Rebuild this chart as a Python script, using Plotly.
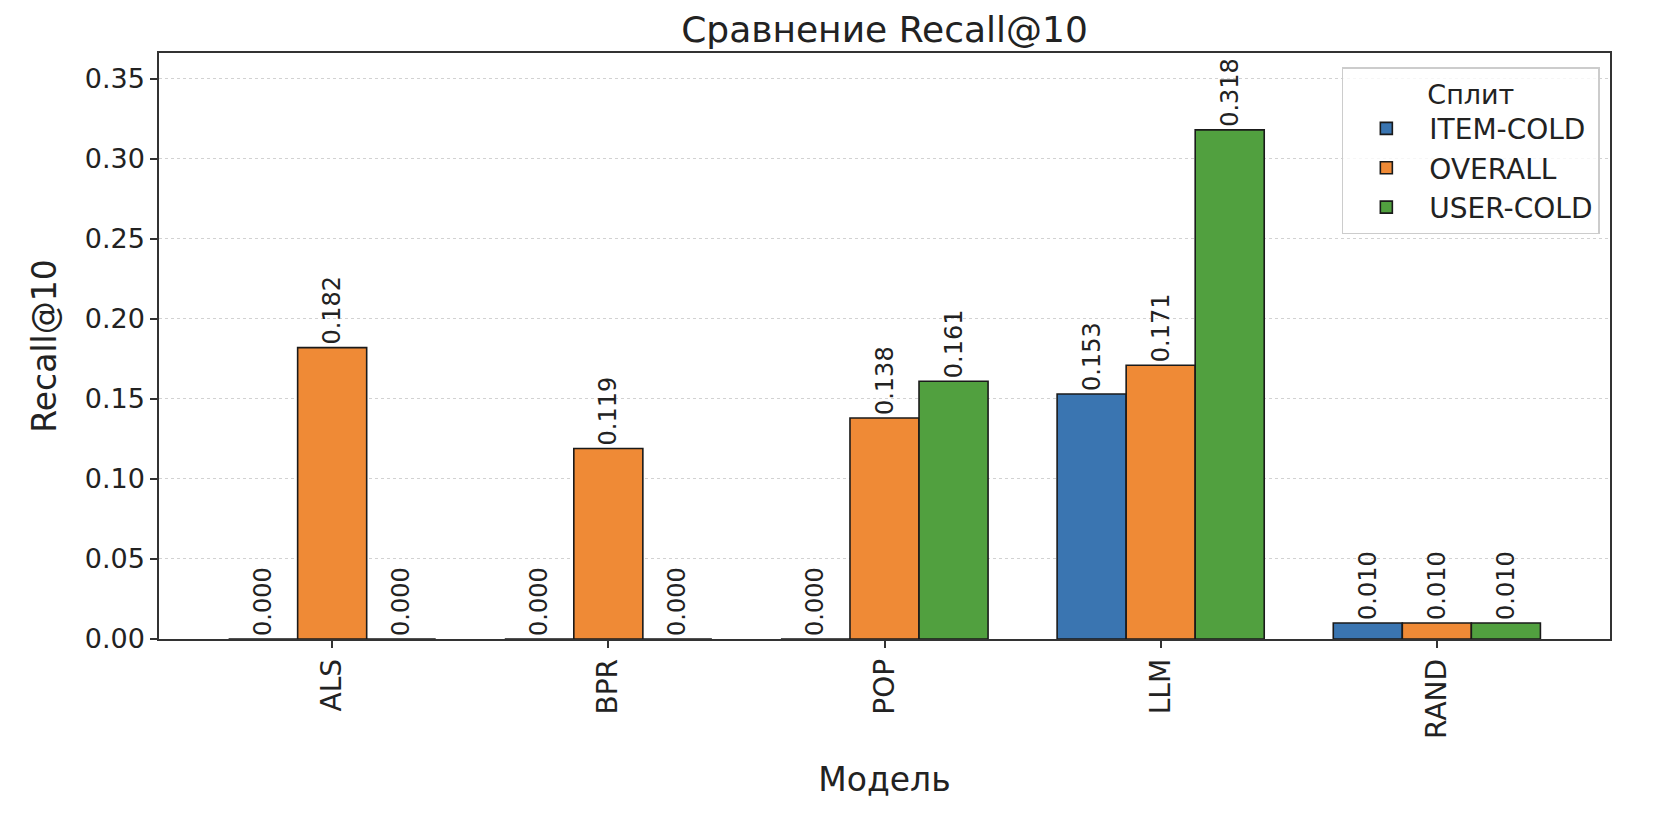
import plotly.graph_objects as go

# data
models = ["ALS", "BPR", "POP", "LLM", "RAND"]
splits = ["ITEM-COLD", "OVERALL", "USER-COLD"]
item_cold = [0.000, 0.000, 0.000, 0.153, 0.010]
overall = [0.182, 0.119, 0.138, 0.171, 0.010]
user_cold = [0.000, 0.000, 0.161, 0.318, 0.010]
y_ticks = [0.00, 0.05, 0.10, 0.15, 0.20, 0.25, 0.30, 0.35]

series = [item_cold, overall, user_cold]
colors = ["#3a75b1", "#ef8a36", "#51a03f"]
FONT = "DejaVu Sans"

# the page body has an 8px margin, so the figure is a bit smaller than the window
W, H = 1664, 800
L, T, R, B = 151, 45, 62, 169

fig = go.Figure()
for name, vals, col in zip(splits, series, colors):
    fig.add_trace(go.Bar(
        x=models, y=vals, name=name,
        marker=dict(color=col, line=dict(color="#1a1a1a", width=1.6)),
        texttemplate="%{y:.3f}", textposition="outside", textangle=-90,
        textfont=dict(family=FONT, size=24, color="#222"),
        constraintext="none", cliponaxis=False,
    ))

fig.update_layout(
    width=W, height=H,
    paper_bgcolor="white", plot_bgcolor="white",
    margin=dict(l=L, r=R, t=T, b=B),
    font=dict(family=FONT, size=27, color="#222"),
    barmode="group", bargap=0.25, bargroupgap=0,
    title=dict(text="Сравнение Recall@10", x=(L + W - R) / 2 / W, xanchor="center",
               y=1 - 21 / H, yanchor="middle", font=dict(size=36, color="#222")),
    legend=dict(
        x=0.993, y=0.976, xanchor="right", yanchor="top",
        bgcolor="rgba(255,255,255,0.8)", bordercolor="#cccccc", borderwidth=1.5,
        title=dict(text="Сплит", side="top center", font=dict(size=27)),
        font=dict(size=28), itemwidth=76,
    ),
)

fig.update_xaxes(
    title=dict(text="Модель", font=dict(size=33), standoff=30),
    tickangle=-90, range=[-0.627, 4.627],
    showline=True, mirror=True, linecolor="#333", linewidth=1.5,
    ticks="outside", ticklen=7, tickwidth=1.5, tickcolor="#333",
    tickfont=dict(size=28),
    showgrid=False, zeroline=False,
)
fig.update_yaxes(
    title=dict(text="Recall@10", font=dict(size=33), standoff=18),
    range=[0, 0.366], tickvals=y_ticks, tickformat=".2f",
    showline=True, mirror=True, linecolor="#333", linewidth=1.5,
    ticks="outside", ticklen=7, tickwidth=1.5, tickcolor="#333",
    showgrid=True, gridcolor="#d2d2d2", griddash="dot", gridwidth=1,
    zeroline=False,
)

fig.write_html("out.html")
